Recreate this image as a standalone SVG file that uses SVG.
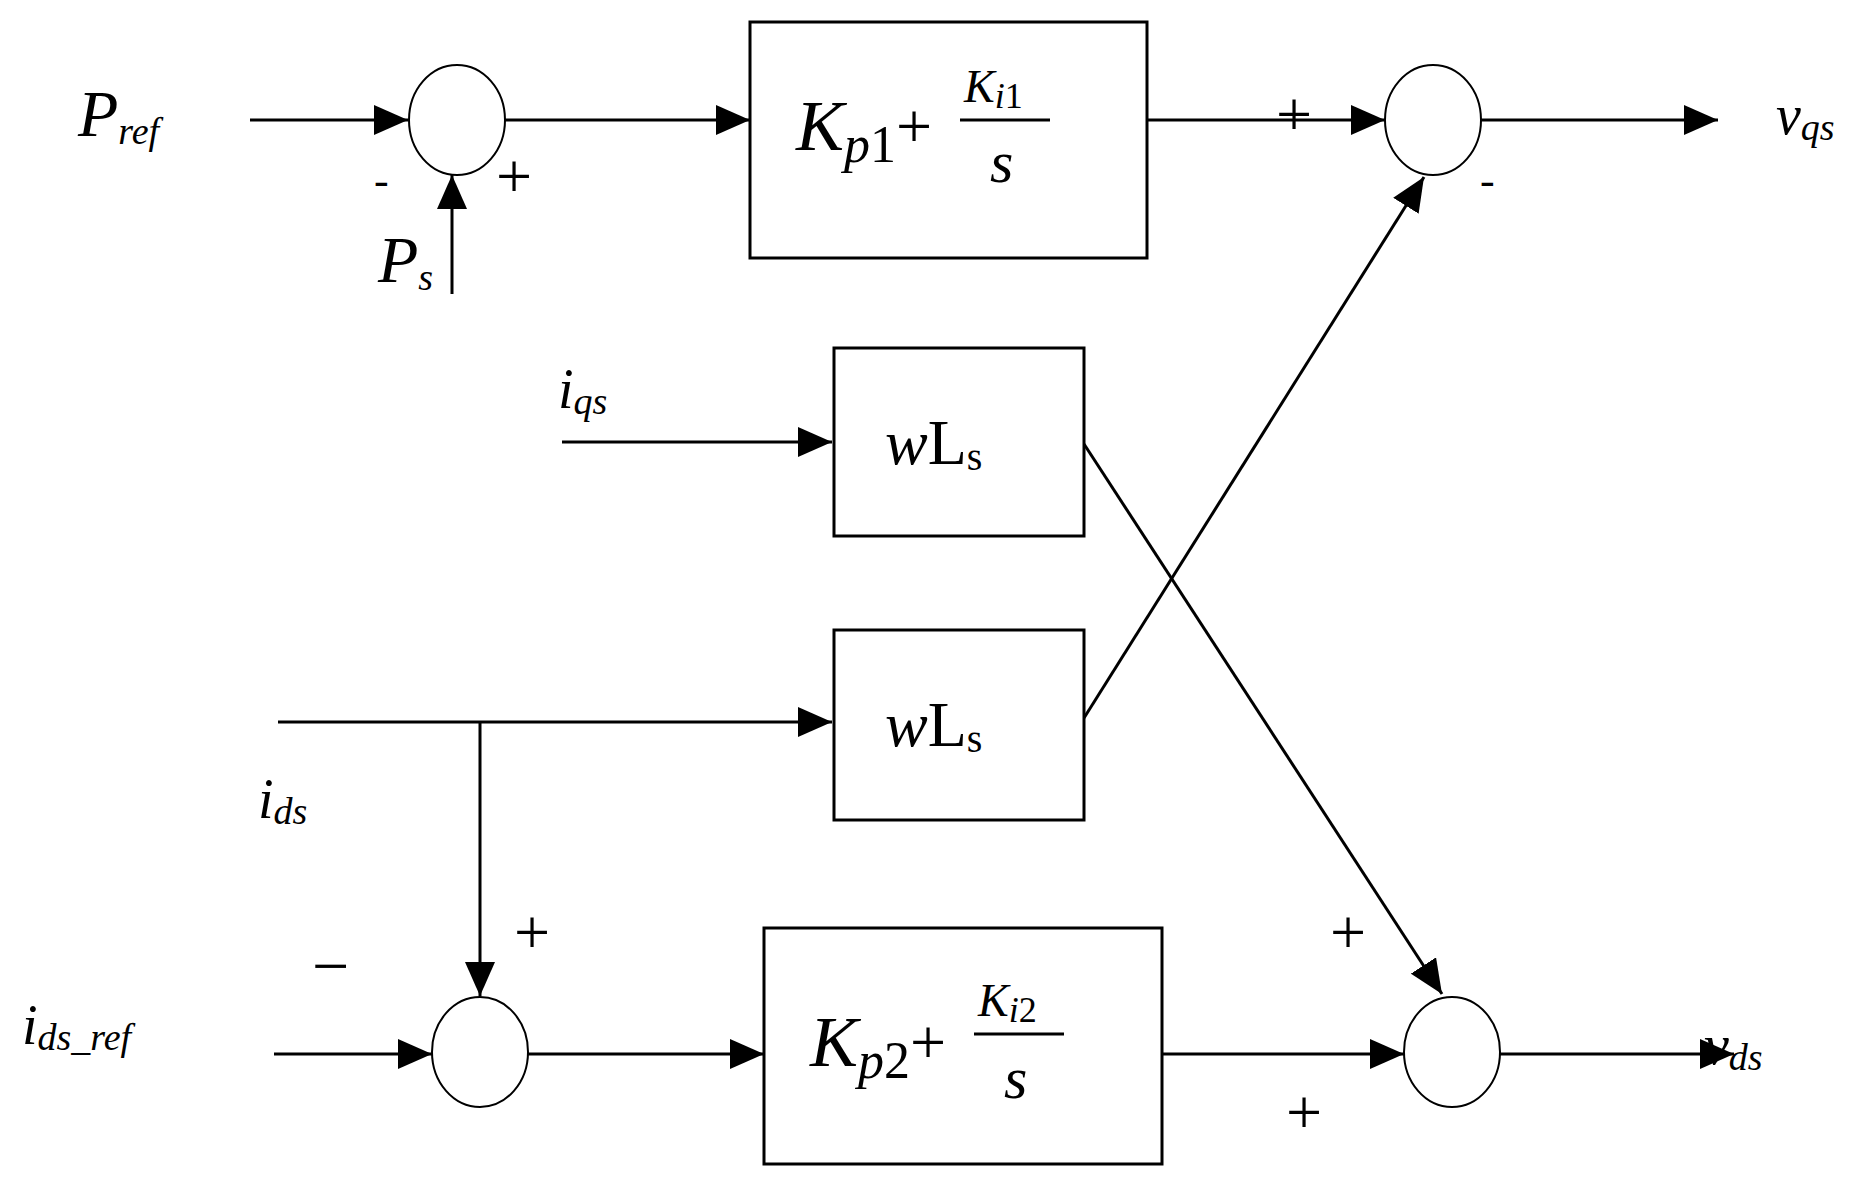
<svg xmlns="http://www.w3.org/2000/svg" width="1873" height="1182" viewBox="0 0 1873 1182">
<defs>
<marker id="a" viewBox="0 0 10 10" refX="10" refY="5" markerWidth="34" markerHeight="30" markerUnits="userSpaceOnUse" orient="auto" preserveAspectRatio="none"><path d="M0,0 L10,5 L0,10 z" fill="#000"/></marker>
</defs>
<style>
.b{fill:#fff;stroke:#000;stroke-width:3}
.c{fill:#fff;stroke:#000;stroke-width:2}
.l{fill:none;stroke:#000;stroke-width:3}
.t{font-family:"Liberation Serif",serif;font-style:italic;fill:#000}
.n{font-family:"Liberation Serif",serif;fill:#000}
</style>
<rect width="1873" height="1182" fill="#fff"/>
<g id="connectors">
<line class="l" x1="250" y1="120" x2="408" y2="120" marker-end="url(#a)"/>
<line class="l" x1="452" y1="294" x2="452" y2="175" marker-end="url(#a)"/>
<line class="l" x1="505" y1="120" x2="750" y2="120" marker-end="url(#a)"/>
<line class="l" x1="1147" y1="120" x2="1385" y2="120" marker-end="url(#a)"/>
<line class="l" x1="1481" y1="120" x2="1718" y2="120" marker-end="url(#a)"/>
<line class="l" x1="562" y1="442" x2="832" y2="442" marker-end="url(#a)"/>
<line class="l" x1="278" y1="722" x2="832" y2="722" marker-end="url(#a)"/>
<line class="l" x1="480" y1="722" x2="480" y2="996" marker-end="url(#a)"/>
<line class="l" x1="274" y1="1054" x2="432" y2="1054" marker-end="url(#a)"/>
<line class="l" x1="528" y1="1054" x2="764" y2="1054" marker-end="url(#a)"/>
<line class="l" x1="1162" y1="1054" x2="1404" y2="1054" marker-end="url(#a)"/>
<line class="l" x1="1500" y1="1054" x2="1734" y2="1054" marker-end="url(#a)"/>
<line class="l" x1="1084" y1="444" x2="1442" y2="994" stroke-width="2.5" marker-end="url(#a)"/>
<line class="l" x1="1084" y1="718" x2="1424" y2="177" stroke-width="2.5" marker-end="url(#a)"/>
</g>
<g id="sum1"><ellipse class="c" cx="457" cy="120" rx="48" ry="55"/></g>
<g id="sum2"><ellipse class="c" cx="1433" cy="120" rx="48" ry="55"/></g>
<g id="sum3"><ellipse class="c" cx="480" cy="1052" rx="48" ry="55"/></g>
<g id="sum4"><ellipse class="c" cx="1452" cy="1052" rx="48" ry="55"/></g>
<g id="pi1"><rect class="b" x="750" y="22" width="397" height="236"/>
<text class="t" x="796" y="150" font-size="72">K<tspan font-size="52" dy="12">p</tspan><tspan class="n" font-style="normal" font-size="52">1</tspan><tspan font-style="normal" font-size="64" dy="-14">+</tspan></text>
<text class="t" x="964" y="102" font-size="46">K<tspan dy="6" font-size="36">i</tspan><tspan font-style="normal" font-size="36">1</tspan></text>
<line x1="960" y1="120" x2="1050" y2="120" stroke="#000" stroke-width="3"/>
<text class="t" x="990" y="182" font-size="60">s</text></g>
<g id="wls1"><rect class="b" x="834" y="348" width="250" height="188"/>
<text class="t" x="885" y="464" font-size="64">w<tspan class="n" font-style="normal">L</tspan><tspan class="n" font-style="normal" font-size="40" dy="6">s</tspan></text></g>
<g id="wls2"><rect class="b" x="834" y="630" width="250" height="190"/>
<text class="t" x="885" y="746" font-size="64">w<tspan class="n" font-style="normal">L</tspan><tspan class="n" font-style="normal" font-size="40" dy="6">s</tspan></text></g>
<g id="pi2"><rect class="b" x="764" y="928" width="398" height="236"/>
<text class="t" x="810" y="1066" font-size="72">K<tspan font-size="52" dy="12">p</tspan><tspan class="n" font-style="normal" font-size="52">2</tspan><tspan font-style="normal" font-size="64" dy="-14">+</tspan></text>
<text class="t" x="978" y="1016" font-size="46">K<tspan dy="6" font-size="36">i</tspan><tspan font-style="normal" font-size="36">2</tspan></text>
<line x1="974" y1="1034" x2="1064" y2="1034" stroke="#000" stroke-width="3"/>
<text class="t" x="1004" y="1098" font-size="60">s</text></g>
<g id="labels">
<text class="t" x="78" y="136" font-size="66">P<tspan font-size="38" dy="8">ref</tspan></text>
<text class="t" x="378" y="282" font-size="66">P<tspan font-size="38" dy="8">s</tspan></text>
<text class="t" x="1776" y="134" font-size="56">v<tspan font-size="38" dy="6">qs</tspan></text>
<text class="t" x="558" y="408" font-size="56">i<tspan font-size="38" dy="6">qs</tspan></text>
<text class="t" x="258" y="818" font-size="56">i<tspan font-size="38" dy="6">ds</tspan></text>
<text class="t" x="22" y="1044" font-size="56">i<tspan font-size="38" dy="6">ds_ref</tspan></text>
<text class="t" x="1704" y="1064" font-size="56">v<tspan font-size="38" dy="6">ds</tspan></text>
<text class="n" x="374" y="195" font-size="44">-</text>
<text class="n" x="496" y="198" font-size="64">+</text>
<text class="n" x="1276" y="136" font-size="64">+</text>
<text class="n" x="1480" y="195" font-size="44">-</text>
<text class="n" x="514" y="954" font-size="64">+</text>
<text class="n" x="312" y="988" font-size="66">−</text>
<text class="n" x="1330" y="954" font-size="64">+</text>
<text class="n" x="1286" y="1134" font-size="64">+</text>
</g>
</svg>
